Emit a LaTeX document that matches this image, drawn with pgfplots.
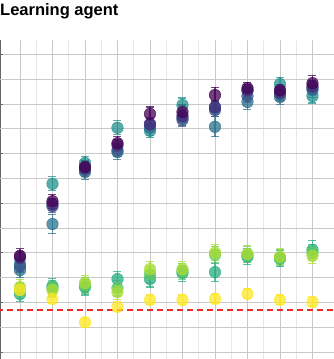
\documentclass[border=0pt]{standalone}
\usepackage{pgfplots}
\pgfplotsset{compat=1.18}
\usepackage{fontspec}
\setmainfont{Liberation Sans}
\definecolor{v1}{HTML}{440154}
\definecolor{v2}{HTML}{472C7A}
\definecolor{v3}{HTML}{3B518B}
\definecolor{v4}{HTML}{2C718E}
\definecolor{v5}{HTML}{21908D}
\definecolor{v6}{HTML}{27AD81}
\definecolor{v7}{HTML}{5CC863}
\definecolor{v8}{HTML}{AADC32}
\definecolor{v9}{HTML}{FDE725}
\pgfplotsset{
  pt/.style={only marks, mark=*, mark size=5.8pt, color=#1,
    mark options={draw=none, fill=#1, fill opacity=0.75},
    error bars/.cd, y dir=both, y explicit,
    error bar style={line width=1.1pt, draw opacity=0.75, color=#1},
    error mark options={rotate=90, mark size=4pt, line width=1.1pt, draw opacity=0.75, color=#1}}
}
\begin{document}
\begin{tikzpicture}
\useasboundingbox (0,0) rectangle (334pt,359pt);
\begin{axis}[at={(0pt,0pt)}, anchor=south west, scale only axis,
  width=334pt, height=319pt,
  xmin=-0.615, xmax=9.662, ymin=-0.141, ymax=6.29,
  axis lines=left, axis line style={-},
  x axis line style={draw=none},
  y axis line style={draw=black!60, line width=1.5pt},
  xtick={0,...,9}, minor x tick num=1,
  ytick={0,...,6},
  extra y ticks={0.5,1.5,2.5,3.5,4.5,5.5},
  extra y tick style={grid=major, major tick length=0pt},
  extra y tick labels={},
  xticklabels={}, yticklabels={},
  grid=both,
  major grid style={black!21, line width=0.8pt},
  minor grid style={black!9, line width=0.8pt},
  xtick style={draw=none},
  minor tick length=0pt,
  ytick style={draw=black!60, line width=0.8pt},
  major tick length=3pt, tick align=inside,
  clip=true,
]
\addplot[pt=v6] coordinates {(0,1.17)+-(0,0.16) (1,1.33)+-(0,0.16) (2,1.31)+-(0,0.16) (3,1.47)+-(0,0.16) (4,1.47)+-(0,0.16) (5,1.59)+-(0,0.16) (6,1.61)+-(0,0.18) (7,1.92)+-(0,0.16) (8,1.88)+-(0,0.16) (9,2.06)+-(0,0.18)};
\addplot[pt=v7] coordinates {(0,1.23)+-(0,0.16) (1,1.29)+-(0,0.16) (2,1.35)+-(0,0.16) (3,1.29)+-(0,0.16) (4,1.57)+-(0,0.16) (5,1.63)+-(0,0.16) (6,1.96)+-(0,0.16) (7,1.96)+-(0,0.16) (8,1.90)+-(0,0.16) (9,2.00)+-(0,0.16)};
\addplot[pt=v8] coordinates {(0,1.31)+-(0,0.16) (1,1.25)+-(0,0.16) (2,1.39)+-(0,0.16) (3,1.21)+-(0,0.16) (4,1.67)+-(0,0.16) (5,1.67)+-(0,0.16) (6,2.00)+-(0,0.16) (7,1.98)+-(0,0.16) (8,1.92)+-(0,0.16) (9,1.94)+-(0,0.16)};
\addplot[pt=v9] coordinates {(0,1.25)+-(0,0.10) (1,1.07)+-(0,0.10) (2,0.60)+-(0,0.10) (3,0.91)+-(0,0.10) (4,1.05)+-(0,0.10) (5,1.05)+-(0,0.10) (6,1.07)+-(0,0.10) (7,1.17)+-(0,0.10) (8,1.05)+-(0,0.10) (9,1.01)+-(0,0.10)};
\addplot[pt=v5] coordinates {(0,1.77)+-(0,0.14) (1,3.39)+-(0,0.14) (2,3.81)+-(0,0.14) (3,4.52)+-(0,0.14) (4,4.46)+-(0,0.14) (5,4.98)+-(0,0.14) (6,4.92)+-(0,0.14) (7,5.26)+-(0,0.14) (8,5.40)+-(0,0.14) (9,5.16)+-(0,0.14)};
\addplot[pt=v4] coordinates {(0,1.65)+-(0,0.15) (1,2.58)+-(0,0.20) (2,3.63)+-(0,0.15) (3,4.03)+-(0,0.15) (4,4.52)+-(0,0.15) (5,4.72)+-(0,0.15) (6,4.54)+-(0,0.20) (7,5.04)+-(0,0.15) (8,5.14)+-(0,0.15) (9,5.28)+-(0,0.15)};
\addplot[pt=v3] coordinates {(0,1.73)+-(0,0.13) (1,2.94)+-(0,0.13) (2,3.67)+-(0,0.13) (3,4.07)+-(0,0.13) (4,4.58)+-(0,0.13) (5,4.68)+-(0,0.13) (6,4.88)+-(0,0.13) (7,5.16)+-(0,0.13) (8,5.20)+-(0,0.13) (9,5.32)+-(0,0.13)};
\addplot[pt=v2] coordinates {(0,1.90)+-(0,0.12) (1,2.98)+-(0,0.12) (2,3.71)+-(0,0.12) (3,4.17)+-(0,0.12) (4,4.60)+-(0,0.12) (5,4.76)+-(0,0.12) (6,4.94)+-(0,0.12) (7,5.28)+-(0,0.12) (8,5.24)+-(0,0.12) (9,5.36)+-(0,0.12)};
\addplot[pt=v1] coordinates {(0,1.94)+-(0,0.14) (1,3.04)+-(0,0.14) (2,3.73)+-(0,0.12) (3,4.21)+-(0,0.14) (4,4.80)+-(0,0.14) (5,4.84)+-(0,0.14) (6,5.18)+-(0,0.16) (7,5.32)+-(0,0.12) (8,5.28)+-(0,0.12) (9,5.42)+-(0,0.16)};
\addplot[color={rgb,255:red,240;green,40;blue,40}, line width=1.5pt, dash pattern=on 6pt off 4pt] coordinates {(-1,0.85) (10,0.85)};
\end{axis}
\node[anchor=north west, inner sep=0pt, font=\bfseries\fontsize{16.5}{18}\selectfont] at (0pt,355.5pt) {Learning agent};
\end{tikzpicture}
\end{document}
